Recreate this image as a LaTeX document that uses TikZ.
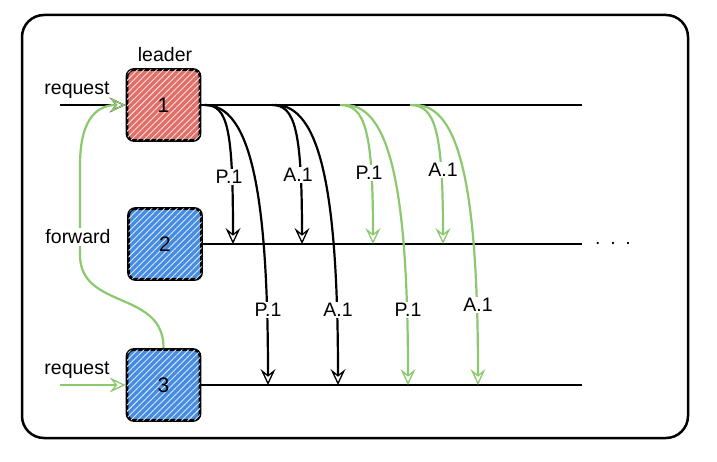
\documentclass[tikz,border=0pt]{standalone}
\usepackage{fontspec}
\setmainfont{Liberation Sans}
\usetikzlibrary{arrows.meta,patterns.meta}
\definecolor{gr}{RGB}{140,200,110}
\definecolor{rd}{RGB}{226,110,104}
\definecolor{bl}{RGB}{70,140,226}
\begin{document}
\begin{tikzpicture}[x=1pt,y=-1pt,
  box/.style={draw, line width=2.8pt, rounded corners=7pt, minimum width=73pt, minimum height=71pt,
    inner sep=0pt, font=\fontsize{21}{24}\selectfont,
    postaction={pattern={Lines[angle=45,distance=4.5pt,line width=0.9pt]}, pattern color=white!80!#1}},
  box/.default=white,
  lbl/.style={fill=white, inner sep=1.5pt, font=\fontsize{19.5}{22}\selectfont},
  txt/.style={inner sep=1pt, font=\fontsize{19.5}{22}\selectfont},
  lane/.style={line width=2.4pt},
  arr/.style={-{Stealth[open,length=16pt,width=15pt,inset=6pt,line width=1.3pt]}, line width=2.2pt},
  garr/.style={arr, draw=gr}]
\useasboundingbox (0,0) rectangle (717,462);
\node[draw, line width=2.5pt, rounded corners=22pt, minimum width=666pt, minimum height=423pt] (frame) at (355,226.5) {};

\node[box=rd, fill=rd] (b1) at (163.5,105) {1};
\node[box=bl, fill=bl] (b2) at (165,244) {2};
\node[box=bl, fill=bl] (b3) at (163.5,385) {3};

\node[txt] (leader) at (165,55) {leader};
\node[txt] (rq1) at (77,90) {request};
\node[txt] (rq3) at (77,370) {request};

\coordinate (l1) at (582,105);
\coordinate (l2) at (582,244);
\coordinate (l3) at (582,385);
\draw[lane] (b1.east) -- (l1);
\draw[lane] (b2.east) -- (l2);
\draw[lane] (b3.east) -- (l3);
\node[txt] (dots) at (613,243) {.\,\,\,.\,\,\,.};

\coordinate (r1) at (60,105);
\coordinate (r3) at (60,385);
\draw[arr] (r1) -- (b1.west);
\draw[garr] (r3) -- (b3.west);

% forward
\draw[garr] (b3.north) .. controls (164,290) and (80,310) .. (80,255) -- (80,165)
  .. controls (80,115) and (100,105) .. (b1.west);
\node[lbl] (fw) at (78,237) {forward};

% start points on lane 1
\coordinate (s1) at (205,105);
\coordinate (s2) at (272,105);
\coordinate (s3) at (340,105);
\coordinate (s4) at (410,105);
\coordinate (t1) at (275,105);
\coordinate (t2) at (345,105);
\coordinate (t3) at (415,105);
% end points
\coordinate (e21) at (233,244);
\coordinate (e22) at (302,244);
\coordinate (e23) at (373,244);
\coordinate (e24) at (443,244);
\coordinate (e31) at (268,385);
\coordinate (e32) at (338,385);
\coordinate (e33) at (408,385);
\coordinate (e34) at (478,385);

% to node 2
\draw[arr] (s1) .. controls (228,105) and (233,130) .. (e21);
\draw[arr] (s2) .. controls (295,105) and (302,130) .. (e22);
\draw[garr] (s3) .. controls (365,105) and (373,130) .. (e23);
\draw[garr] (s4) .. controls (435,105) and (443,130) .. (e24);
% to node 3
\draw[arr] (s1) .. controls (250,105) and (268,190) .. (e31);
\draw[arr] (t1) .. controls (320,105) and (338,190) .. (e32);
\draw[garr] (t2) .. controls (390,105) and (408,190) .. (e33);
\draw[garr] (t3) .. controls (460,105) and (478,190) .. (e34);

\node[lbl] (p21) at (229,177) {P.1};
\node[lbl] (a22) at (298,175) {A.1};
\node[lbl] (p23) at (369,173) {P.1};
\node[lbl] (a24) at (443,170) {A.1};
\node[lbl] (p31) at (268,310) {P.1};
\node[lbl] (a32) at (338,310) {A.1};
\node[lbl] (p33) at (408,310) {P.1};
\node[lbl] (a34) at (478,305) {A.1};
\end{tikzpicture}
\end{document}
